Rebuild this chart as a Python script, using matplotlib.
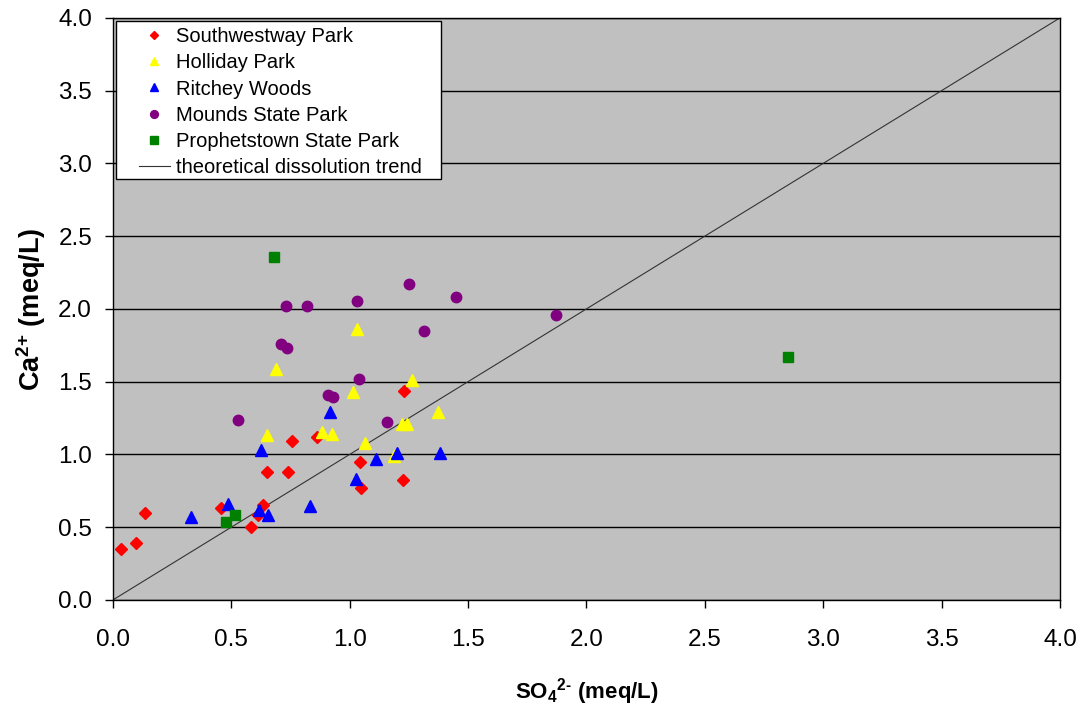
import matplotlib
matplotlib.use("Agg")
import matplotlib.pyplot as plt
from matplotlib.patches import Rectangle
import numpy as np

plt.rcParams['font.family'] = ['Liberation Sans', 'DejaVu Sans']
plt.rcParams['mathtext.fontset'] = 'custom'
plt.rcParams['mathtext.rm'] = 'Liberation Sans:bold'
plt.rcParams['mathtext.it'] = 'Liberation Sans:bold'
plt.rcParams['mathtext.bf'] = 'Liberation Sans:bold'

# SO4 (x) and Ca (y) in meq/L for each site
southwestway_x = [0.035, 0.096, 0.134, 0.458, 0.582, 0.615, 0.634, 0.651, 0.740, 0.756,
                  0.863, 1.043, 1.049, 1.231, 1.224]
southwestway_y = [0.35, 0.39, 0.60, 0.635, 0.50, 0.585, 0.655, 0.878, 0.878, 1.093,
                  1.122, 0.946, 0.768, 1.434, 0.825]

holliday_x = [0.653, 0.691, 1.029, 1.016, 1.265, 1.373, 0.885, 0.925, 1.064, 1.222, 1.243, 1.188]
holliday_y = [1.134, 1.59, 1.86, 1.43, 1.51, 1.29, 1.157, 1.143, 1.081, 1.207, 1.212, 0.988]

ritchey_x = [0.329, 0.485, 0.626, 0.617, 0.655, 0.832, 0.918, 1.026, 1.111, 1.201, 1.380]
ritchey_y = [0.573, 0.66, 1.029, 0.619, 0.582, 0.648, 1.292, 0.834, 0.969, 1.013, 1.013]

mounds_x = [0.530, 0.732, 0.822, 1.033, 1.249, 1.449, 1.314, 0.710, 0.737, 1.038, 0.908,
            0.930, 1.159, 1.872]
mounds_y = [1.239, 2.02, 2.02, 2.057, 2.17, 2.08, 1.849, 1.762, 1.73, 1.517, 1.411,
            1.393, 1.225, 1.959]

prophetstown_x = [0.479, 0.517, 0.679, 2.853]
prophetstown_y = [0.538, 0.586, 2.36, 1.67]

trend = [0.0, 4.0]

ticks = np.arange(0, 4.01, 0.5)

fig = plt.figure(figsize=(10.85, 7.13), dpi=100)
ax = fig.add_axes([0.104, 0.1585, 0.873, 0.8165])
ax.set_facecolor('#C0C0C0')

ax.plot(southwestway_x, southwestway_y, ls='none', marker='D', ms=6, color='#FF0000',
        mec='#FF0000', label='Southwestway Park', zorder=3)
ax.plot(holliday_x, holliday_y, ls='none', marker='^', ms=8, color='#FFFF00',
        mec='#FFFF00', label='Holliday Park', zorder=3)
ax.plot(ritchey_x, ritchey_y, ls='none', marker='^', ms=8, color='#0000FF',
        mec='#0000FF', label='Ritchey Woods', zorder=3)
ax.plot(mounds_x, mounds_y, ls='none', marker='o', ms=7.5, color='#800080',
        mec='#800080', label='Mounds State Park', zorder=3)
ax.plot(prophetstown_x, prophetstown_y, ls='none', marker='s', ms=7, color='#008000',
        mec='#008000', label='Prophetstown State Park', zorder=3)
ax.plot(trend, trend, color='#333333', lw=0.8, label='theoretical dissolution trend', zorder=2)

ax.set_xlim(0, 4)
ax.set_ylim(0, 4)
ax.set_xticks(ticks)
ax.set_yticks(ticks)
ax.set_xticklabels([f"{t:.1f}" for t in ticks])
ax.set_yticklabels([f"{t:.1f}" for t in ticks])
ax.tick_params(direction='out', length=6, width=1, labelsize=17.5)
ax.tick_params(axis='x', pad=15)
ax.tick_params(axis='y', pad=9)
ax.yaxis.grid(True, color='black', lw=1)
ax.set_axisbelow(True)
for s in ax.spines.values():
    s.set_color('black')
    s.set_linewidth(1)

ax.set_xlabel(r"SO$_4$$^{2\text{-}}$ (meq/L)", fontsize=16, fontweight='bold', labelpad=18)
ax.set_ylabel(r"Ca$^{2\text{+}}$ (meq/L)", fontsize=19.5, fontweight='bold', labelpad=7)

# legend box drawn separately so the side padding can be wider than the top/bottom
ax.add_patch(Rectangle((0.0032, 0.7234), 0.3437, 0.2703, transform=ax.transAxes,
                       facecolor='white', edgecolor='black', lw=1, zorder=4))
leg = ax.legend(loc='upper left', bbox_to_anchor=(0.0275, 0.9835), fontsize=14.5, frameon=False,
                borderaxespad=0, borderpad=0, handlelength=1.55, handletextpad=0.3,
                markerscale=0.75, labelspacing=0.35)
leg.set_zorder(5)

fig.savefig('out.png', dpi=100)
